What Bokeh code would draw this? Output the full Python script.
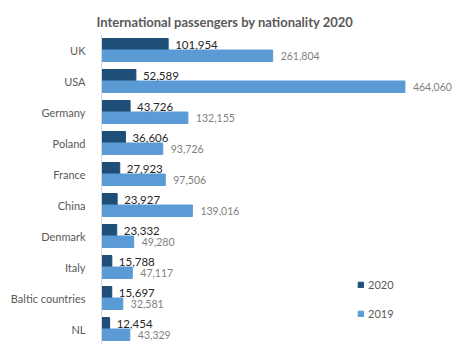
from bokeh.plotting import figure
from bokeh.models import ColumnDataSource, FactorRange, Range1d, Legend, LegendItem
from bokeh.transform import dodge
from bokeh.core.properties import value
from bokeh.embed import file_html
from bokeh.resources import INLINE

categories = ["UK", "USA", "Germany", "Poland", "France", "China", "Denmark", "Italy", "Baltic countries", "NL"]
values_2020 = [101954, 52589, 43726, 36606, 27923, 23927, 23332, 15788, 15697, 12454]
values_2019 = [261804, 464060, 132155, 93726, 97506, 139016, 49280, 47117, 32581, 43329]
series_names = ["2020", "2019"]
title_text = "International passengers by nationality 2020"

src = ColumnDataSource(dict(
    cat=categories,
    v2020=values_2020,
    v2019=values_2019,
    l2020=[f"{v:,}" for v in values_2020],
    l2019=[f"{v:,}" for v in values_2019],
))

FONT = "Lato"
p = figure(width=458, height=352, output_backend="svg", toolbar_location=None,
           y_range=FactorRange(factors=categories[::-1]),
           x_range=Range1d(0, 546000),
           min_border_left=101, min_border_right=0, min_border_top=34, min_border_bottom=8)

p.title.text = title_text
p.title.text_font = FONT
p.title.text_font_size = "13px"
p.title.text_font_style = "bold"
p.title.text_color = "#595959"
p.title.align = "left"
p.title.offset = -5

r20 = p.hbar(y=dodge("cat", 0.185, range=p.y_range), right="v2020", left=0, height=0.37,
             source=src, color="#1f4e79")
r19 = p.hbar(y=dodge("cat", -0.185, range=p.y_range), right="v2019", left=0, height=0.37,
             source=src, color="#5b9bd5")

p.text(x="v2020", y=dodge("cat", 0.17, range=p.y_range), text="l2020", source=src,
       x_offset=7, text_baseline="middle", text_align="left",
       text_font=value(FONT), text_font_size="11.5px", text_color="#262626")
p.text(x="v2019", y=dodge("cat", -0.19, range=p.y_range), text="l2019", source=src,
       x_offset=8, text_baseline="middle", text_align="left",
       text_font=value(FONT), text_font_size="10.5px", text_color="#7f7f7f")

p.xaxis.visible = False
p.xgrid.visible = False
p.ygrid.visible = False
p.outline_line_color = None
yax = p.yaxis[0]
yax.axis_line_color = "#d9d9d9"
yax.major_tick_line_color = None
yax.minor_tick_line_color = None
yax.major_label_text_font = FONT
yax.major_label_text_font_size = "11px"
yax.major_label_text_color = "#595959"
yax.major_label_standoff = 10

legend = Legend(items=[LegendItem(label=series_names[0], renderers=[r20]),
                       LegendItem(label=series_names[1], renderers=[r19])],
                location=(256, 24), orientation="vertical")
legend.glyph_width = 7
legend.glyph_height = 7
legend.label_standoff = 4
legend.spacing = 15
legend.padding = 0
legend.margin = 0
legend.border_line_color = None
legend.background_fill_alpha = 0
legend.label_text_font = FONT
legend.label_text_font_size = "11px"
legend.label_text_color = "#595959"
legend.label_height = 14
p.add_layout(legend, "center")

open("out.html", "w").write(file_html(p, INLINE))
